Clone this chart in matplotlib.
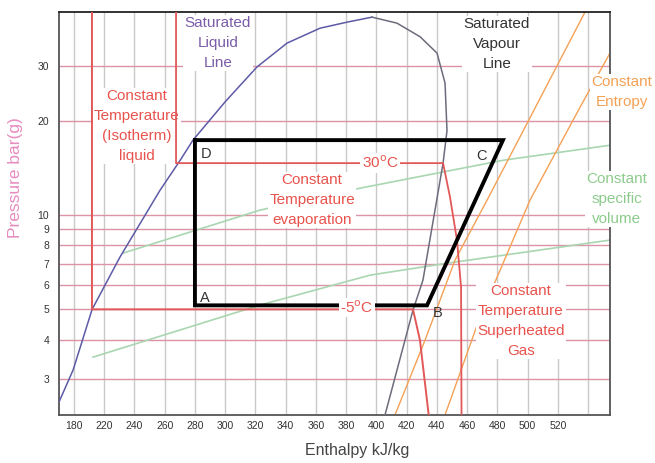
import matplotlib
matplotlib.use("Agg")
import matplotlib.pyplot as plt
from matplotlib.ticker import NullLocator

plt.rcParams["font.family"] = ["Liberation Sans", "DejaVu Sans"]

# axis ticks (the source labels the 200 gridline as "180")
grid_h = [200, 220, 240, 260, 280, 300, 320, 340, 360, 380, 400, 420, 440, 460, 480, 500, 520, 540]
grid_h_labels = ["180", "220", "240", "260", "280", "300", "320", "340", "360", "380",
                 "400", "420", "440", "460", "480", "500", "520", ""]
p_ticks = [3, 4, 5, 6, 7, 8, 9, 10, 20, 30]
h_min, h_max = 190.1, 554.5
p_min, p_max = 2.30, 44.5

# saturation dome
liquid_h = [190.1, 199.4, 212.0, 230.4, 256.9, 270.0, 278.7, 300.0, 321.0, 340.9, 362.7, 380.6, 397.1]
liquid_p = [2.53, 3.20, 5.0, 7.34, 12.0, 14.9, 17.35, 23.0, 29.7, 35.4, 39.5, 41.3, 42.85]
vapour_h = [397.1, 413.6, 428.9, 440.1, 445.4, 446.7, 444.1, 430.8, 424.2, 405.7, 404.0]
vapour_p = [42.85, 41.0, 37.1, 32.9, 26.4, 18.6, 14.65, 6.20, 4.97, 2.30, 2.22]

# isotherms
cold_h = [211.9, 211.9, 424.2, 428.8, 434.6, 435.0]
cold_p = [44.5, 5.0, 5.0, 3.99, 2.30, 2.25]
hot_h = [267.5, 267.5, 444.1, 448.7, 453.3, 456.0, 456.3]
hot_p = [44.5, 14.65, 14.65, 11.41, 8.32, 5.89, 2.25]

# isentropes
ent1_h = [412.3, 432.2, 452.0, 473.2, 538.0]
ent1_p = [2.30, 3.99, 7.18, 11.16, 44.5]
ent2_h = [445.4, 468.5, 501.6, 534.7, 554.5]
ent2_p = [2.30, 4.72, 11.16, 22.1, 32.9]

# constant specific volume
vol1_h = [232.4, 323.0, 382.5, 483.7, 554.5]
vol1_p = [7.56, 10.37, 12.01, 14.96, 16.71]
vol2_h = [212.6, 323.0, 395.8, 446.7, 554.5]
vol2_p = [3.52, 5.16, 6.43, 7.02, 8.32]

# refrigeration cycle D -> A -> B -> C -> D
cycle_h = [280.0, 280.0, 433.5, 483.7, 280.0]
cycle_p = [17.35, 5.15, 5.15, 17.35, 17.35]
cycle_names = ["D", "A", "B", "C"]
name_h = [287.3, 286.7, 440.8, 469.2]
name_p = [15.65, 5.43, 4.86, 15.42]

RED = "#e25858"
RED_TXT = "#e8534d"
ORANGE = "#f5a155"
GREEN = "#a9d6b0"
GREEN_TXT = "#8ccb8c"
PURPLE = "#7b5ca8"

fig = plt.figure(figsize=(6.55, 4.63), dpi=100)
ax = fig.add_axes([59 / 655, 48 / 463, 551 / 655, 403 / 463])
ax.set_yscale("log")
ax.set_xlim(h_min, h_max)
ax.set_ylim(p_min, p_max)

ax.set_xticks(grid_h)
ax.set_xticklabels(grid_h_labels)
ax.set_yticks(p_ticks)
ax.set_yticklabels([str(p) for p in p_ticks])
ax.yaxis.set_minor_locator(NullLocator())
ax.tick_params(length=0, labelsize=7.5, labelcolor="#333333")
ax.tick_params(axis="y", pad=7)
ax.tick_params(axis="x", pad=4)
ax.grid(True, axis="x", color="#c9c9c9", lw=1.0, zorder=0)
ax.grid(True, axis="y", color="#dc93a5", lw=1.0, zorder=0)
ax.set_axisbelow(True)
for side in ["left", "bottom", "right"]:
    ax.spines[side].set_color("#555555")
    ax.spines[side].set_linewidth(1.3)
ax.spines["top"].set_color("#222222")
ax.spines["top"].set_linewidth(1.3)

ax.plot(vol1_h, vol1_p, color=GREEN, lw=1.2, zorder=2)
ax.plot(vol2_h, vol2_p, color=GREEN, lw=1.2, zorder=2)
ax.plot(ent1_h, ent1_p, color=ORANGE, lw=1.0, zorder=2)
ax.plot(ent2_h, ent2_p, color=ORANGE, lw=1.0, zorder=2)
ax.plot(liquid_h, liquid_p, color="#5d5aa6", lw=1.1, zorder=3)
ax.plot(vapour_h, vapour_p, color="#6c6c7c", lw=1.1, zorder=3)
ax.plot(cold_h, cold_p, color=RED, lw=1.4, zorder=3)
ax.plot(hot_h, hot_p, color=RED, lw=1.3, zorder=3)
ax.plot(cycle_h, cycle_p, color="black", lw=2.8, zorder=4, solid_joinstyle="miter")

for name, h, p in zip(cycle_names, name_h, name_p):
    ax.text(h, p, name, fontsize=10.5, color="#333333", ha="center", va="center", zorder=6)

box = dict(facecolor="white", edgecolor="none", pad=1.0)
ax.text(402.4, 14.65, "30$^{\\mathrm{o}}$C", fontsize=11, color=RED_TXT,
        ha="center", va="center", bbox=box, zorder=6)
ax.text(387.2, 5.07, "-5$^{\\mathrm{o}}$C", fontsize=11, color=RED_TXT,
        ha="center", va="center", bbox=box, zorder=6)


def label(x, y, s, color):
    fig.text(x / 655, 1 - y / 463, s, fontsize=11, color=color, ha="center", va="center",
             linespacing=1.55, multialignment="center", bbox=box, zorder=6)


label(218, 43, "Saturated\nLiquid\nLine", PURPLE)
label(497, 44, "Saturated\nVapour\nLine", "#333333")
label(622, 92, "Constant\nEntropy", ORANGE)
label(617, 199, "Constant\nspecific\nvolume", GREEN_TXT)
label(521, 321, "Constant\nTemperature\nSuperheated\nGas", RED_TXT)
label(312, 200, "Constant\nTemperature\nevaporation", RED_TXT)

# this one sits under the isotherm lines, which stay visible through it
ax.text(137 / 655, 1 - 126 / 463, "Constant\nTemperature\n(Isotherm)\nliquid",
        transform=fig.transFigure, fontsize=11, color=RED_TXT, ha="center", va="center",
        linespacing=1.55, multialignment="center", bbox=box, zorder=2.5)

fig.text(357 / 655, 1 - 450 / 463, "Enthalpy kJ/kg", fontsize=11.5, color="#444444",
         ha="center", va="center")
fig.text(16 / 655, 1 - 178 / 463, "Pressure bar(g)", fontsize=12.5, color="#e68cc0",
         ha="center", va="center", rotation=90)

fig.savefig("out.png", dpi=100, facecolor="white")
